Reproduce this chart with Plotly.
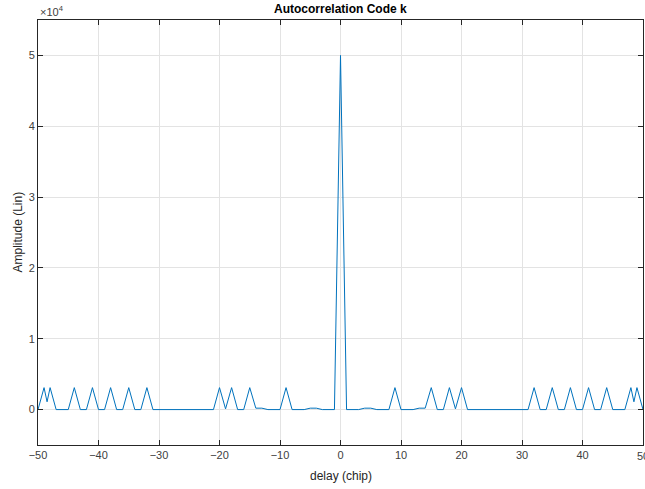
import plotly.graph_objects as go

# Vertices of the autocorrelation trace (delay in chips, amplitude linear)
delay = [-50, -49, -48.5, -48, -47, -45, -44, -43, -42, -41, -40, -39, -38, -37, -36,
         -35, -34, -33, -32, -31, -21, -20, -19, -18, -17, -16, -15, -14, -13, -12,
         -10, -9, -8, -6, -5, -4, -3, -1, 0, 1, 3, 4, 5, 6, 8, 9, 10, 12, 13, 14, 15,
         16, 17, 18, 19, 20, 21, 31, 32, 33, 34, 35, 36, 37, 38, 39, 40, 41, 42, 43,
         44, 45, 47, 48, 48.5, 49, 50]
amplitude = [0, 3100, 1100, 3100, 0, 0, 3100, 0, 0, 3100, 0, 0, 3100, 0, 0,
             3100, 0, 0, 3100, 0, 0, 3100, 100, 3100, 0, 0, 3100, 200, 200, 0,
             0, 3100, 0, 0, 200, 200, 0, 0, 50000, 0, 0, 200, 200, 0, 0, 3100, 0, 0, 200, 200, 3100,
             0, 0, 3100, 100, 3100, 0, 0, 3100, 0, 0, 3100, 0, 0, 3100, 0, 0, 3100, 0, 0,
             3100, 0, 0, 3100, 1100, 3100, 0]

x_ticks = [-50, -40, -30, -20, -10, 0, 10, 20, 30, 40, 50]
y_ticks = [0, 10000, 20000, 30000, 40000, 50000]
y_tick_labels = ["0", "1", "2", "3", "4", "5"]

FONT = "Liberation Sans, Arial, Helvetica, sans-serif"
AX = "#262626"
TICKFONT = dict(family=FONT, size=11, color="#404040")

fig = go.Figure()
fig.add_trace(go.Scatter(x=delay, y=amplitude, mode="lines",
                         line=dict(color="#0072BD", width=1), showlegend=False,
                         hoverinfo="skip"))

axis_common = dict(showline=True, linecolor=AX, linewidth=1, mirror="ticks",
                   ticks="inside", ticklen=5, tickcolor=AX, tickwidth=1,
                   showgrid=True, gridcolor="#e3e3e3", gridwidth=1, automargin=False,
                   zeroline=False, tickfont=TICKFONT)

fig.update_xaxes(range=[-50, 50], tickvals=x_ticks, **axis_common)
fig.update_yaxes(range=[-5000, 55000], tickvals=y_ticks, ticktext=y_tick_labels,
                 **axis_common)

fig.update_layout(
    width=645, height=489, autosize=False,
    margin=dict(l=38, r=2, t=20, b=44, autoexpand=False),
    paper_bgcolor="white", plot_bgcolor="white",
    font=dict(family=FONT, color=AX),
    annotations=[
        dict(text="<b>Autocorrelation Code k</b>", x=0.5, y=1, xref="paper", yref="paper",
             xanchor="center", yanchor="bottom", yshift=2, showarrow=False,
             font=dict(family=FONT, size=12, color="#000000")),
        dict(text="\u00d710<sup>4</sup>", x=0, y=1, xref="paper", yref="paper",
             xanchor="left", yanchor="bottom", yshift=0, showarrow=False,
             font=dict(family=FONT, size=11, color="#404040")),
        # last x tick label, clipped by the window edge as in the reference
        dict(text=str(x_ticks[-1]), x=x_ticks[-1], y=0, xref="x", yref="paper",
             xanchor="center", yanchor="top", yshift=-3, showarrow=False,
             font=TICKFONT),
        dict(text="delay (chip)", x=0.5, y=0, xref="paper", yref="paper",
             xanchor="center", yanchor="top", yshift=-22, showarrow=False,
             font=dict(family=FONT, size=12, color=AX)),
        dict(text="Amplitude (Lin)", x=0, y=0.5, xref="paper", yref="paper",
             xanchor="center", yanchor="middle", xshift=-21, textangle=-90,
             showarrow=False, font=dict(family=FONT, size=12, color=AX)),
    ],
)

fig.write_html("out.html", config={"displayModeBar": False},
               post_script="document.body.style.margin='0';document.body.style.overflow='hidden';")
